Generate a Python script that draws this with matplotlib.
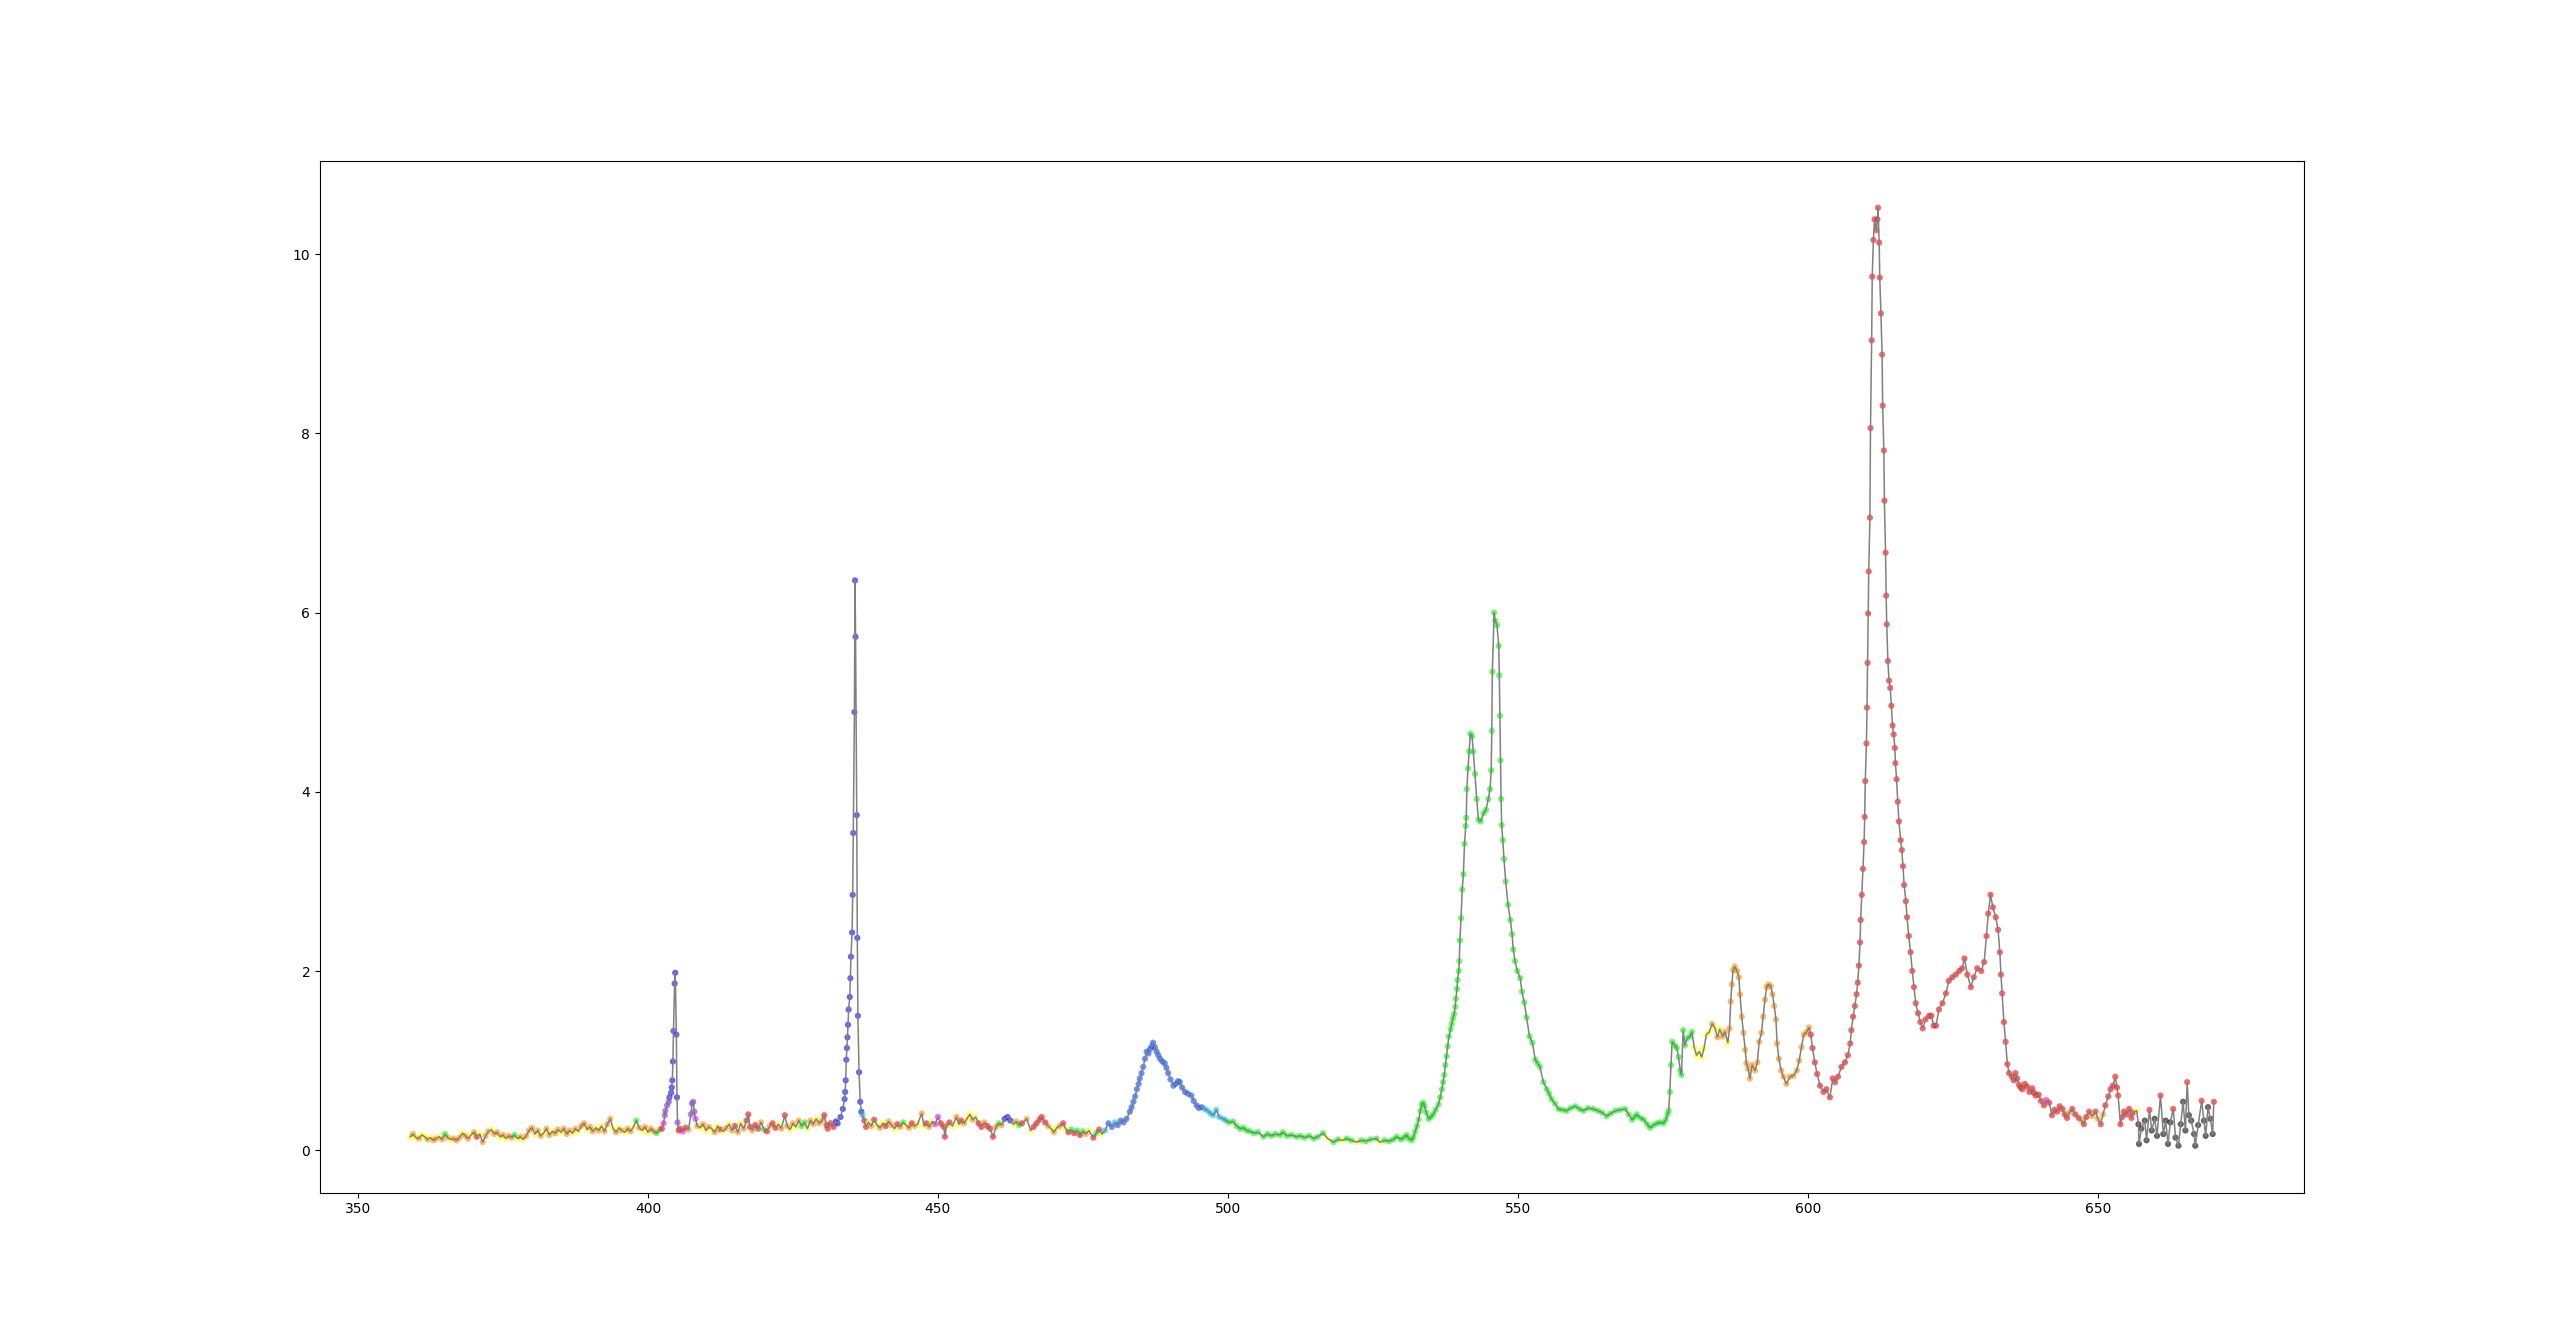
import matplotlib
matplotlib.use("Agg")
import matplotlib.pyplot as plt

# spectrum, split in pieces (wavelength nm / intensity / colour code)
wl_base1 = [359.0, 359.5, 360.0, 360.5, 361.0, 361.5, 362.0, 362.5, 363.0, 363.5,
            364.0, 364.5, 365.0, 365.5, 366.0, 366.5, 367.0, 367.5, 368.0, 368.5,
            369.0, 369.5, 370.0, 370.5, 371.0, 371.5, 372.0, 372.5, 373.0, 373.5,
            374.0, 374.5, 375.0, 375.5, 376.0, 376.5, 377.0, 377.5, 378.0, 378.5,
            379.0, 379.5, 380.0, 380.5, 381.0, 381.5, 382.0, 382.5, 383.0, 383.5,
            384.0, 384.5, 385.0, 385.5, 386.0, 386.5, 387.0, 387.5, 388.0, 388.5,
            389.0, 389.5, 390.0, 390.5, 391.0, 391.5, 392.0, 392.5, 393.0, 393.5,
            394.0, 394.5, 395.0, 395.5, 396.0, 396.5, 397.0, 397.5, 398.0, 398.5,
            399.0, 399.5, 400.0, 400.5, 401.0, 401.5, 402.0, 402.4]
int_base1 = [.15, .18, .14, .13, .17, .15, .12, .14, .11, .13,
             .15, .12, .18, .14, .12, .13, .11, .14, .19, .16,
             .13, .17, .20, .15, .18, .09, .16, .21, .23, .18,
             .20, .15, .17, .13, .16, .14, .17, .13, .15, .12,
             .16, .22, .25, .18, .22, .16, .19, .24, .17, .21,
             .19, .23, .20, .24, .18, .22, .19, .24, .21, .27,
             .30, .23, .26, .21, .25, .22, .27, .21, .29, .35,
             .24, .20, .25, .22, .20, .24, .21, .26, .33, .25,
             .22, .26, .20, .24, .21, .19, .23, .24]
col_base1 = ("yoyoyyoyoo" "yogoyoooyo" "oyoryoooyo" "oyoyoogyoy" "oooyooyooy"
             "ooyoooyoyo" "oyooyoyooo" "yoyoyooygo" "yoyoogor")

wl_405 = [402.7, 402.9, 403.0, 403.3, 403.6, 403.7, 404.0, 404.1, 404.2, 404.3,
          404.4, 404.6, 404.7, 404.9, 405.0, 405.1, 405.3, 405.5, 406.0, 406.5,
          407.0, 407.4, 407.6, 407.8, 408.0, 408.2, 408.5]
int_405 = [.30, .39, .44, .50, .54, .59, .64, .70, .78, .99,
           1.33, 1.86, 1.98, 1.29, .59, .31, .22, .24, .21, .25,
           .23, .40, .52, .54, .43, .35, .27]
col_405 = "mvvvvbbbbbbbbbbvrrmrovvvvmo"

wl_base2 = [409.0, 409.5, 410.0, 410.5, 411.0, 411.5, 412.0, 412.5, 413.0, 413.5,
            414.0, 414.5, 415.0, 415.5, 416.0, 416.5, 417.0, 417.3, 417.6, 418.0,
            418.5, 419.0, 419.5, 420.0, 420.5, 421.0, 421.5, 422.0, 422.5, 423.0,
            423.6, 424.0, 424.5, 425.0, 425.5, 426.0, 426.5, 427.0, 427.5, 428.0,
            428.5, 429.0, 429.5, 430.0, 430.4, 430.8, 431.0, 431.5, 432.0, 432.4]
int_base2 = [.25, .29, .22, .26, .24, .20, .27, .23, .21, .25,
             .29, .22, .27, .20, .30, .24, .33, .40, .26, .22,
             .28, .24, .31, .23, .21, .27, .30, .25, .29, .24,
             .39, .27, .23, .30, .26, .33, .27, .31, .24, .33,
             .29, .35, .30, .33, .39, .28, .24, .30, .26, .32]
col_base2 = "yoyoyoyryo" "yoroyorrro" "rrogrorryo" "royoyoggyo" "oyoorrrrrb"

wl_436 = [432.7, 433.2, 433.6, 433.9, 434.0, 434.1, 434.2, 434.3, 434.4, 434.5,
          434.6, 434.8, 434.9, 435.0, 435.2, 435.3, 435.4, 435.6, 435.7, 435.8,
          436.0, 436.1, 436.2, 436.4, 436.6, 436.8, 437.0]
int_436 = [.30, .37, .46, .57, .65, .78, 1.01, 1.14, 1.26, 1.40,
           1.57, 1.71, 1.92, 2.16, 2.43, 2.85, 3.54, 4.89, 6.36, 5.73,
           3.74, 2.37, 1.50, .87, .54, .43, .39]
col_436 = "bbbbbbbbbb" "bbbbbbbbbb" "bbbbbbc"

wl_base3 = [437.3, 437.6, 438.0, 438.5, 439.0, 439.5, 440.0, 440.5, 441.0, 441.5,
            442.0, 442.5, 443.0, 443.5, 444.0, 444.5, 445.0, 445.5, 446.0, 446.5,
            447.2, 447.6, 448.0, 448.5, 449.0, 449.5, 450.0, 450.5, 451.0, 451.2,
            451.5, 452.0, 452.5, 453.2, 453.6, 454.0, 454.5, 455.0, 455.5, 456.0,
            456.5, 457.0, 457.5, 458.0, 458.5, 459.0, 459.5, 460.0, 460.5, 461.0,
            461.5, 462.0, 462.5, 463.0, 463.5, 464.0, 464.5, 465.3, 466.0, 466.5,
            467.0, 467.5, 467.9, 468.5, 469.0, 469.5, 470.0, 470.5, 471.0, 471.6,
            472.0, 472.5, 473.0, 473.5, 474.0, 474.5, 475.0, 475.5, 476.0, 476.8,
            477.3, 477.8, 478.3, 478.8, 479.4, 480.0, 480.5, 481.0, 481.5, 482.0,
            482.5]
int_base3 = [.33, .26, .31, .27, .34, .28, .25, .30, .27, .32,
             .28, .24, .29, .26, .31, .28, .25, .30, .27, .29,
             .41, .27, .30, .26, .32, .29, .37, .30, .26, .15,
             .28, .31, .27, .37, .29, .33, .30, .35, .40, .34,
             .37, .30, .26, .31, .27, .24, .15, .26, .30, .28,
             .35, .37, .33, .29, .32, .28, .30, .35, .22, .26,
             .30, .34, .37, .31, .27, .24, .20, .25, .27, .30,
             .24, .20, .23, .19, .22, .17, .21, .18, .22, .14,
             .19, .23, .18, .22, .30, .26, .31, .28, .33, .31,
             .35]
col_base3 = ("rryoryoyro" "oyrogyoroy" "oyroymmrrr" "oryoyroyyo" "yrrorrrogo"
             "bbbyogroyr" "rrrroyoyor" "yrgrgrgoyr" "grycddcddd" "d")

wl_486 = [483.1, 483.4, 483.7, 484.0, 484.3, 484.6, 484.8, 485.1, 485.4, 485.7,
          486.0, 486.3, 486.6, 486.9, 487.1, 487.4, 487.7, 488.0, 488.3, 488.7,
          489.1, 489.4, 489.7, 490.1, 490.6, 491.0, 491.4, 491.7, 492.1, 492.6,
          493.1, 493.7, 494.1, 494.6, 495.0, 495.5, 496.0, 496.5, 497.0, 497.5,
          498.0, 498.5, 499.2, 499.7, 500.2, 500.9, 501.5, 502.1, 502.7, 503.2,
          503.8, 504.5, 505.2, 506.1, 506.8, 507.5, 508.2, 509.0, 509.5, 510.2,
          511.0, 511.8, 512.5, 513.2, 514.0, 514.8, 515.5, 516.4, 517.2, 518.2,
          519.0, 519.8, 520.5, 521.3, 522.2, 523.0, 523.8, 524.6, 525.6, 526.2,
          527.0, 527.8, 528.5, 529.1, 529.8, 530.3, 530.8, 531.2, 531.7, 532.0]
int_486 = [.43, .48, .54, .60, .68, .74, .80, .86, .93, 1.02,
           1.10, 1.08, 1.13, 1.16, 1.20, 1.15, 1.10, 1.06, 1.02, .99,
           .97, .92, .86, .79, .72, .74, .77, .76, .70, .65,
           .63, .61, .55, .50, .47, .48, .46, .44, .41, .39,
           .45, .37, .35, .33, .31, .32, .27, .24, .25, .22,
           .21, .19, .20, .15, .18, .16, .18, .17, .20, .16,
           .17, .15, .16, .14, .16, .13, .15, .19, .13, .09,
           .12, .11, .13, .11, .09, .11, .10, .12, .13, .09,
           .11, .10, .12, .15, .12, .14, .17, .13, .11, .15]
col_486 = ("dddddddddd" "dddddddddd" "dddddddddd" "ddddddcccc" "ccccgggggg"
           "gggggggggg" "ggggggggyg" "gyggyggggy" "gggggggggg")

wl_546 = [532.3, 532.6, 532.9, 533.2, 533.4, 533.7, 533.9, 534.2, 534.6, 535.0,
          535.4, 535.8, 536.3, 536.6, 536.9, 537.1, 537.3, 537.5, 537.7, 537.9,
          538.1, 538.4, 538.6, 538.8, 539.0, 539.2, 539.3, 539.5, 539.6, 539.8,
          539.9, 540.0, 540.2, 540.4, 540.6, 540.8, 541.0, 541.1, 541.2, 541.4,
          541.6, 541.8, 542.1, 542.3, 542.6, 542.9, 543.2, 543.6, 544.1, 544.5,
          544.9, 545.2, 545.4, 545.5, 545.6, 545.9, 546.1, 546.4, 546.7, 546.8,
          546.9, 547.0, 547.1, 547.2, 547.4, 547.6, 547.9, 548.3, 548.7, 549.0,
          549.2, 549.5, 549.9, 550.4, 550.7, 551.1, 551.5, 552.0, 552.5, 553.0,
          553.4, 553.8, 554.4, 555.0, 555.4, 555.8, 556.4, 557.0, 557.7, 558.4,
          559.1, 559.9, 560.6, 561.3, 562.1, 563.0, 563.8, 564.5, 565.3, 566.0,
          566.8, 567.6, 568.5, 569.1, 569.7, 570.1, 570.5, 571.1, 571.7, 572.3,
          572.8, 573.4, 574.0, 574.5, 575.1, 575.5, 575.8, 576.0, 576.2, 576.4]
int_546 = [.21, .27, .34, .44, .51, .53, .49, .42, .35, .37,
           .40, .45, .51, .59, .68, .76, .84, .95, 1.05, 1.16,
           1.27, 1.35, 1.41, 1.47, 1.52, 1.60, 1.69, 1.80, 1.90, 2.00,
           2.11, 2.34, 2.59, 2.91, 3.08, 3.42, 3.62, 3.71, 4.03, 4.26,
           4.45, 4.65, 4.62, 4.45, 4.20, 3.92, 3.69, 3.67, 3.76, 3.80,
           3.92, 4.03, 4.24, 4.68, 5.34, 6.00, 5.91, 5.86, 5.63, 5.30,
           4.85, 4.35, 3.92, 3.63, 3.46, 3.25, 3.00, 2.74, 2.57, 2.41,
           2.24, 2.11, 2.00, 1.92, 1.77, 1.65, 1.48, 1.27, 1.20, 1.01,
           .97, .93, .76, .68, .63, .57, .52, .46, .45, .44,
           .47, .49, .46, .44, .47, .46, .44, .42, .38, .41,
           .44, .45, .46, .40, .34, .37, .40, .36, .34, .29,
           .25, .28, .30, .31, .30, .34, .40, .44, .65, .95]
col_546 = ("gggggggggg" "gggggggggg" "gggggggggg" "gggggggggg" "gggggggggg" "gggggggggg"
           "gggggggggg" "gggggggggg" "gggggggggg" "gggggggggg" "gggggggggg" "gggggggggg")

wl_590 = [576.6, 577.1, 577.4, 577.7, 578.0, 578.2, 578.5, 578.8, 579.2, 579.7,
          580.0, 580.4, 580.8, 581.3, 581.7, 582.1, 582.5, 583.0, 583.5, 584.0,
          584.4, 584.8, 585.3, 585.7, 586.2, 586.5, 586.7, 586.9, 587.1, 587.4,
          587.8, 588.1, 588.3, 588.6, 588.9, 589.2, 589.4, 589.7, 590.0, 590.4,
          590.9, 591.3, 591.6, 592.0, 592.3, 592.6, 592.9, 593.2, 593.6, 593.9,
          594.2, 594.5, 594.7, 595.0, 595.4, 595.8, 596.3, 596.9, 597.5, 598.1,
          598.5, 598.9, 599.3, 599.8, 600.2, 600.5, 600.8, 601.2, 601.6, 602.1,
          602.7, 603.2, 603.8, 604.3, 604.7, 605.2, 605.8, 606.4, 606.9, 607.3,
          607.5, 607.8, 608.1, 608.4, 608.6, 608.8]
int_590 = [1.21, 1.17, 1.14, 1.04, .89, .84, 1.34, 1.17, 1.25, 1.27,
           1.32, 1.15, 1.06, 1.10, 1.04, 1.14, 1.29, 1.32, 1.41, 1.36,
           1.26, 1.35, 1.27, 1.32, 1.20, 1.36, 1.66, 1.85, 2.01, 2.05,
           2.00, 1.93, 1.74, 1.49, 1.31, 1.12, .97, .91, .80, .95,
           .89, .98, 1.21, 1.31, 1.49, 1.68, 1.82, 1.85, 1.83, 1.74,
           1.61, 1.46, 1.19, 1.02, .89, .82, .74, .82, .83, .89,
           1.00, 1.15, 1.29, 1.32, 1.37, 1.29, 1.14, .98, .85, .72,
           .65, .68, .59, .80, .76, .82, .93, .98, 1.06, 1.19,
           1.34, 1.49, 1.61, 1.74, 1.87, 2.06]
col_590 = ("gggggggggg" "gyyyyyyyoy" "oyooyooooo" "oooooooooo" "oooooooooo"
           "oooooooooo" "ooooorrrrr" "rrrrrrrrrr" "rrrrrr")

wl_612 = [609.0, 609.1, 609.3, 609.5, 609.7, 609.8, 609.9, 610.1, 610.2, 610.3,
          610.4, 610.5, 610.7, 610.8, 611.0, 611.1, 611.3, 611.5, 611.8, 612.0,
          612.1, 612.3, 612.4, 612.6, 612.8, 612.9, 613.1, 613.2, 613.4, 613.5,
          613.6, 613.8, 614.0, 614.2, 614.4, 614.6, 614.8, 615.0, 615.1, 615.3,
          615.5, 615.7, 616.0, 616.2, 616.4, 616.6, 616.9, 617.1, 617.4, 617.7,
          618.0, 618.3, 618.6, 619.0, 619.4, 619.8, 620.3, 620.9, 621.3, 621.7,
          622.1, 622.6, 623.2, 623.8, 624.3, 624.9, 625.5, 626.1, 626.6, 627.0,
          627.5, 628.1, 628.6, 629.2, 629.9, 630.4, 630.8, 631.1, 631.5, 631.9,
          632.4, 632.8, 633.1, 633.3, 633.5, 633.8, 634.1, 634.4, 634.7]
int_612 = [2.32, 2.57, 2.85, 3.14, 3.44, 3.72, 4.12, 4.54, 4.94, 5.44,
           5.99, 6.46, 7.06, 8.06, 9.04, 9.75, 10.16, 10.39, 10.27, 10.39,
           10.52, 10.13, 9.74, 9.34, 8.88, 8.31, 7.81, 7.25, 6.67, 6.19,
           5.87, 5.46, 5.24, 5.16, 4.96, 4.74, 4.64, 4.49, 4.32, 4.14,
           3.89, 3.67, 3.46, 3.35, 3.17, 2.96, 2.78, 2.60, 2.39, 2.21,
           2.00, 1.82, 1.64, 1.53, 1.43, 1.36, 1.46, 1.50, 1.50, 1.39,
           1.39, 1.57, 1.64, 1.75, 1.89, 1.93, 1.96, 2.00, 2.03, 2.14,
           1.96, 1.82, 1.93, 2.03, 2.00, 2.10, 2.39, 2.64, 2.85, 2.71,
           2.60, 2.46, 2.21, 1.96, 1.75, 1.43, 1.21, .96, .86]
col_612 = "r" * len(wl_612)

wl_tail1 = [635.2, 635.5, 635.8, 636.1, 636.4, 636.7, 637.0, 637.4, 637.8, 638.2,
            638.7, 639.0, 639.3, 639.8, 640.2, 640.7, 641.1, 641.6, 642.1, 642.5,
            643.0, 643.4, 643.9, 644.3, 644.7, 645.1, 645.6, 646.1, 646.7, 647.2,
            647.6, 648.0, 648.5, 649.0, 649.6, 650.0, 650.5, 650.9, 651.3, 651.8,
            652.2, 652.6, 653.0, 653.3, 653.5, 653.9, 654.2, 654.5, 655.0, 655.4,
            655.8, 656.1]
int_tail1 = [.82, .78, .86, .80, .73, .70, .68, .74, .71, .65,
             .69, .64, .61, .62, .55, .50, .56, .53, .39, .45,
             .43, .49, .46, .40, .36, .42, .46, .40, .36, .33,
             .29, .37, .43, .38, .43, .35, .29, .40, .50, .60,
             .68, .72, .82, .70, .61, .29, .37, .43, .40, .46,
             .36, .42]
col_tail1 = "rrrrrrrrrr" "rrrrrrmrrr" "rrrrrorrro" "rrrorororr" "rrrrrrrrrr" "rr"

wl_tail2 = [656.7, 657.0, 657.1, 657.5, 658.1, 658.4, 658.9, 659.3, 659.8, 660.2,
            660.8, 661.3, 661.7, 662.1, 662.5, 663.0, 663.4, 663.9, 664.3, 664.7,
            665.1, 665.4, 665.7, 666.1, 666.6, 666.8, 667.3, 667.9, 668.3, 668.6,
            669.0, 669.4, 669.8, 670.0]
int_tail2 = [.44, .29, .07, .24, .33, .11, .45, .22, .35, .16,
             .61, .18, .33, .07, .31, .46, .14, .05, .29, .54,
             .22, .76, .39, .33, .18, .05, .28, .55, .33, .16,
             .48, .35, .18, .54]
col_tail2 = "ykkkkkrkkk" "rkkkkrkkkk" "krkkkkkrkk" "kkkr"

palette = {
    "y": "yellow", "o": "darkorange", "r": "red", "g": "lime",
    "m": "magenta", "v": "blueviolet", "b": "blue", "d": "#0a4dff",
    "c": "#00c8ff", "k": "black",
}

wl = (wl_base1 + wl_405 + wl_base2 + wl_436 + wl_base3 + wl_486 + wl_546
      + wl_590 + wl_612 + wl_tail1 + wl_tail2)
intensity = (int_base1 + int_405 + int_base2 + int_436 + int_base3 + int_486 + int_546
             + int_590 + int_612 + int_tail1 + int_tail2)
codes = (col_base1 + col_405 + col_base2 + col_436 + col_base3 + col_486 + col_546
         + col_590 + col_612 + col_tail1 + col_tail2)
colors = [palette[c] for c in codes]

fig, ax = plt.subplots(figsize=(25.6, 13.4), dpi=100)
ax.scatter(wl, intensity, c=colors, s=20, alpha=0.6, linewidths=0, zorder=2)
ax.plot(wl, intensity, color="gray", lw=1.1, zorder=3)

fig.savefig("out.png", dpi=100)
